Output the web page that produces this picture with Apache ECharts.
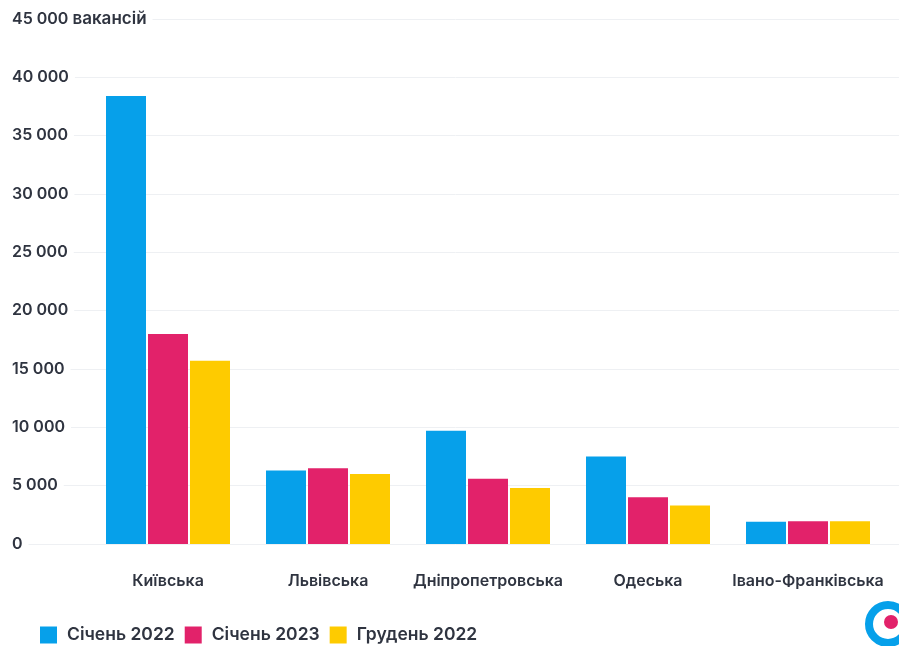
<!DOCTYPE html>
<html><head><meta charset="utf-8">
<script src="https://cdn.jsdelivr.net/npm/echarts@6/dist/echarts.min.js"></script>
<style>html,body{margin:0;padding:0;background:#fff}#c{width:899px;height:646px}</style>
</head><body><div id="c"></div>
<script>
const categories = ['Київська','Львівська','Дніпропетровська','Одеська','Івано-Франківська'];
const seriesNames = ['Січень 2022','Січень 2023','Грудень 2022'];
const jan2022 = [38400, 6300, 9700, 7500, 1900];
const jan2023 = [18000, 6500, 5600, 4000, 1950];
const dec2022 = [15700, 6000, 4800, 3300, 1950];
const yTicks = [0, 5000, 10000, 15000, 20000, 25000, 30000, 35000, 40000, 45000];
const yUnit = 'вакансій';
const colors = ['#06a0ea', '#e2226a', '#fecb00'];

const fmt = v => String(v).replace(/\B(?=(\d{3})+(?!\d))/g, ' ');
const chart = echarts.init(document.getElementById('c'));
const font = 'Inter, "Noto Sans", sans-serif';
const gTop = 19, gBottom = 646 - 544;
chart.setOption({
  animation: false,
  color: colors,
  textStyle: {fontFamily: font},
  grid: [
    {left: 12, right: 0, top: gTop, bottom: gBottom, containLabel: false},
    {left: 88, width: 800, top: gTop, bottom: gBottom, containLabel: false}
  ],
  xAxis: [
    {gridIndex: 0, type: 'value', show: false},
    {gridIndex: 1, type: 'category', data: categories,
     axisLine: {show: false}, axisTick: {show: false},
     axisLabel: {interval: 0, margin: 29, color: '#2f3440', fontSize: 16, fontWeight: 600, fontFamily: font}}
  ],
  yAxis: [
    {gridIndex: 0, type: 'value', min: 0, max: yTicks[yTicks.length-1], interval: 5000,
     axisLine: {show: false}, axisTick: {show: false},
     splitLine: {lineStyle: {color: '#eef0f3', width: 1}},
     axisLabel: {inside: true, align: 'left', verticalAlign: 'middle', margin: 0,
       color: '#2f3440', fontSize: 16, fontWeight: 600, fontFamily: font,
       backgroundColor: '#fff', padding: [2, 6, 2, 0],
       rich: {u: {fontSize: 17, fontWeight: 600, color: '#2f3440', fontFamily: font}},
       formatter: v => v === yTicks[yTicks.length-1] ? fmt(v) + ' {u|' + yUnit + '}' : fmt(v)}},
    {gridIndex: 1, type: 'value', min: 0, max: yTicks[yTicks.length-1], interval: 5000, show: false,
     splitLine: {show: false}}
  ],
  legend: {
    left: 35, top: 621, itemWidth: 17, itemHeight: 17, itemGap: 10,
    icon: 'rect',
    textStyle: {color: '#2f3440', fontSize: 17.5, fontWeight: 600, fontFamily: font, padding: [0, 0, 0, 5]},
    data: seriesNames
  },
  series: [jan2022, jan2023, dec2022].map((d, i) => ({
    name: seriesNames[i], type: 'bar', xAxisIndex: 1, yAxisIndex: 1,
    data: d, barWidth: 40, barGap: '5%'
  })),
  graphic: [
    {type: 'circle', shape: {cx: 888, cy: 624, r: 19}, style: {fill: 'none', stroke: '#06a0ea', lineWidth: 8}},
    {type: 'circle', shape: {cx: 891, cy: 622, r: 7}, style: {fill: '#e2226a'}}
  ]
});
</script></body></html>
